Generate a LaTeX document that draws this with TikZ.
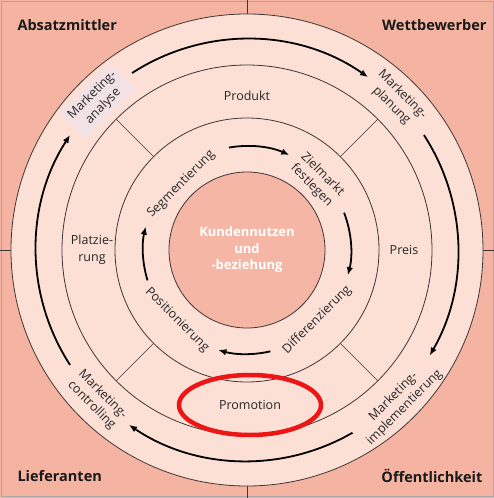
\documentclass[tikz,border=0pt]{standalone}
\usepackage{fontspec}
\setmainfont{Open Sans}
\usetikzlibrary{arrows.meta}
\definecolor{salmon}{RGB}{245,180,162}
\definecolor{rosa}{RGB}{252,224,214}
\definecolor{kern}{RGB}{246,182,166}
\definecolor{linie}{RGB}{62,54,54}
\definecolor{boxrosa}{RGB}{242,226,230}
\definecolor{rot}{RGB}{236,22,22}

\begin{document}
\begin{tikzpicture}[x=1pt,y=1pt,
    ring/.style={draw=linie,line width=0.8pt},
    zyklus/.style={line width=1.8pt,-{Latex[length=8pt,width=6.5pt]}},
    ecke/.style={font=\fontsize{14.5}{16}\selectfont\bfseries,text=black!90},
    txt/.style={font=\fontsize{12.5}{15.5}\selectfont,align=center,text=black!85,inner sep=1pt}]
    \useasboundingbox (-247,-248) rectangle (247,250);
    % background and quadrants
    \fill[salmon] (-247,-248) rectangle (247,250);
    \draw[black!35,line width=0.8pt] (-246,-246) rectangle (246,249);
    \draw[linie,line width=0.6pt] (0,-248) -- (0,250);
    \draw[linie,line width=0.6pt] (-247,0) -- (247,0);
    % rings
    \filldraw[ring,fill=rosa] (0,0) circle (236pt);
    \draw[ring] (0,0) circle (185pt);
    \draw[ring] (0,0) circle (132pt);
    \filldraw[ring,fill=kern] (0,0) circle (78pt);
    \foreach \w in {45,135,225,315}
      \draw[linie,line width=0.6pt] (\w:132pt) -- (\w:185pt);
    % outer cycle
    \draw[zyklus] (123:211pt) arc[start angle=123,end angle=55,radius=211pt];
    \draw[zyklus] (33:211pt) arc[start angle=33,end angle=-30,radius=211pt];
    \draw[zyklus] (-60:211pt) arc[start angle=-60,end angle=-124,radius=211pt];
    \draw[zyklus] (213:211pt) arc[start angle=213,end angle=147,radius=211pt];
    % inner cycle
    \draw[zyklus] (100:104pt) arc[start angle=100,end angle=66,radius=104pt];
    \draw[zyklus] (21:104pt) arc[start angle=21,end angle=-14,radius=104pt];
    \draw[zyklus] (-77:104pt) arc[start angle=-77,end angle=-106,radius=104pt];
    \draw[zyklus] (197:104pt) arc[start angle=197,end angle=167,radius=104pt];
    % corners
    \node[ecke,anchor=west] (absatz) at (-233,225) {Absatzmittler};
    \node[ecke,anchor=east] (wettb) at (243,225) {Wettbewerber};
    \node[ecke,anchor=west] (liefer) at (-233,-226) {Lieferanten};
    \node[ecke,anchor=east] (oeff) at (239,-226) {Öffentlichkeit};
    % marketing process
    \node[txt,rotate=45,fill=boxrosa,inner sep=4pt] (analyse) at (135:211pt) {Marketing-\\analyse};
    \node[txt,rotate=-45] (planung) at (45:212pt) {Marketing-\\planung};
    \node[txt,rotate=45] (implement) at (-45:215pt) {Marketing-\\implementierung};
    \node[txt,rotate=-45] (controlling) at (-135:212pt) {Marketing-\\controlling};
    % 4P
    \node[txt] (produkt) at (0,154) {Produkt};
    \node[txt] (preis) at (157,0) {Preis};
    \node[txt] (promotion) at (3,-155) {Promotion};
    \node[txt,font=\fontsize{12.5}{16.5}\selectfont] (platz) at (-155,0) {Platzie-\\rung};
    % STP
    \node[txt,rotate=45] (segment) at (135:93pt) {Segmentierung};
    \node[txt,rotate=-45] (ziel) at (45:99pt) {Zielmarkt\\festlegen};
    \node[txt,rotate=45] (differenz) at (-45:99pt) {Differenzierung};
    \node[txt,rotate=-45] (position) at (-135:99pt) {Positionierung};
    % core
    \node[txt,text=white,font=\fontsize{13}{16.5}\selectfont\bfseries] (kunde) at (0,0) {Kundennutzen\\und\\-beziehung};
    % highlight
    \draw[rot,line width=4.5pt] (promotion.center) ellipse[x radius=71pt,y radius=30pt];
\end{tikzpicture}
\end{document}
